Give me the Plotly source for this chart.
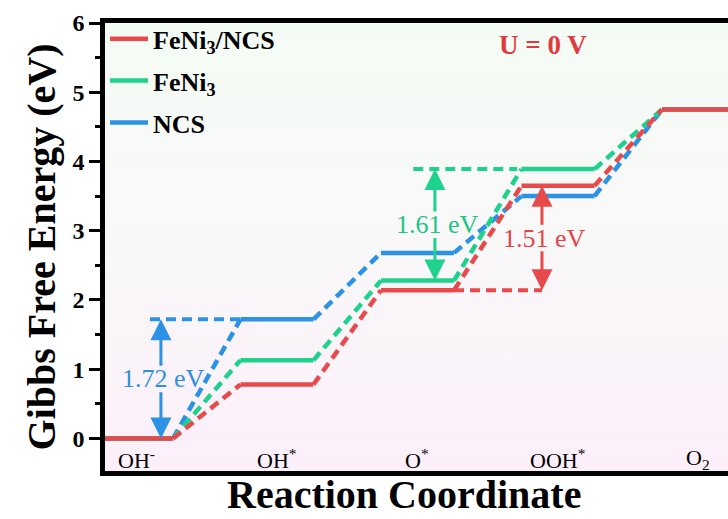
import plotly.graph_objects as go

# ---- data -------------------------------------------------------------
states = ["OH<sup>-</sup>", "OH<sup>*</sup>", "O<sup>*</sup>", "OOH<sup>*</sup>", "O<sub>2</sub>"]
series_names = ["FeNi<sub>3</sub>/NCS", "FeNi<sub>3</sub>", "NCS"]
feni3_ncs = [0.0, 0.78, 2.14, 3.65, 4.75]
feni3 = [0.0, 1.13, 2.28, 3.89, 4.75]
ncs = [0.0, 1.72, 2.68, 3.50, 4.75]
series_values = [feni3_ncs, feni3, ncs]

# potential-determining steps: (series index, lower state, upper state)
limiting_steps = [(2, 0, 1), (1, 2, 3), (0, 2, 3)]

# ---- style ------------------------------------------------------------
colors = ["#E84A4C", "#1ED28D", "#2B92E6"]
label_colors = ["#E24548", "#1CC487", "#2E8FE2"]
SERIF = "Liberation Serif, Times New Roman, serif"
LEVEL_W = 0.52          # width of each free-energy plateau (x units)
X_RANGE = [0.036, 4.47]
Y_RANGE = [-0.47, 6.0]

fig = go.Figure()

# plot-area background with a soft vertical gradient
fig.add_trace(go.Scatter(
    x=[X_RANGE[0], X_RANGE[1], X_RANGE[1], X_RANGE[0], X_RANGE[0]],
    y=[Y_RANGE[0], Y_RANGE[0], Y_RANGE[1], Y_RANGE[1], Y_RANGE[0]],
    mode="lines", line=dict(width=0), fill="toself",
    fillgradient=dict(type="vertical",
                      colorscale=[[0, "#FCEFFA"], [0.5, "#F9F8F9"], [1, "#F4FBF4"]]),
    hoverinfo="skip", showlegend=False,
))

# draw NCS first and FeNi3/NCS last so the red path sits on top
for k in [2, 1, 0]:
    vals = series_values[k]
    lx, ly, dx, dy = [], [], [], []
    for i, v in enumerate(vals):
        lx += [i, i + LEVEL_W, None]
        ly += [v, v, None]
        if i + 1 < len(vals):
            dx += [i + LEVEL_W, i + 1, None]
            dy += [v, vals[i + 1], None]
    fig.add_trace(go.Scatter(
        x=dx, y=dy, mode="lines", showlegend=False, hoverinfo="skip",
        line=dict(color=colors[k], width=4.5, dash="10px,6px"),
    ))
    fig.add_trace(go.Scatter(
        x=lx, y=ly, mode="lines", name=series_names[k], legendrank=k + 1,
        legendgroup=series_names[k],
        line=dict(color=colors[k], width=4.5),
    ))

# overpotential markers: dashed reference level, double arrow and label
# (ref_x0, ref_x1, arrow_x, reference at upper or lower state)
marker_geom = [(0.356, 1.0, 0.434, "upper"),
               (2.23, 2.97, 2.384, "upper"),
               (2 + LEVEL_W, 3.146, 3.146, "lower")]
annotations = []
for (k, lo, hi), (rx0, rx1, ax_x, ref) in zip(limiting_steps, marker_geom):
    vals = series_values[k]
    y_lo, y_hi = vals[lo], vals[hi]
    y_ref = y_hi if ref == "upper" else y_lo
    fig.add_trace(go.Scatter(
        x=[rx0, rx1], y=[y_ref, y_ref], mode="lines", showlegend=False,
        hoverinfo="skip", line=dict(color=colors[k], width=4, dash="10px,6px"),
    ))
    mid = (y_lo + y_hi) / 2
    gap = 0.17
    for tip, tail in [(y_hi, mid + gap), (y_lo, mid - gap)]:
        annotations.append(dict(
            x=ax_x, y=tip, ax=ax_x, ay=tail, xref="x", yref="y",
            axref="x", ayref="y", text="", showarrow=True,
            arrowhead=2, arrowsize=1.4, arrowwidth=3, arrowcolor=colors[k],
        ))
    annotations.append(dict(
        x=ax_x + 0.02, y=mid, xref="x", yref="y", showarrow=False,
        text=f"{y_hi - y_lo:.2f} eV",
        font=dict(family=SERIF, size=26, color=label_colors[k]),
    ))

# state labels along the bottom of the plot
for i, s in enumerate(states):
    annotations.append(dict(
        x=i + LEVEL_W / 2, y=-0.3, xref="x", yref="y", showarrow=False,
        text=s, font=dict(family=SERIF, size=22, color="black"),
    ))

annotations.append(dict(
    x=3.15, y=5.68, xref="x", yref="y", showarrow=False,
    text="U = 0 V", font=dict(family=SERIF, size=27, color="#E0393E", weight="bold"),
))

# x-axis title, placed just under the frame
annotations.append(dict(
    x=0.48, y=-0.107, xref="paper", yref="paper", xanchor="center",
    yanchor="bottom", showarrow=False, text="Reaction Coordinate",
    font=dict(family=SERIF, size=40, color="black", weight="bold"),
))

fig.update_layout(
    width=728, height=519,
    margin=dict(l=105, r=0, t=23, b=48),
    paper_bgcolor="white", plot_bgcolor="white",
    annotations=annotations,
    legend=dict(x=0.0, y=1.017, xanchor="left", yanchor="top",
                bgcolor="rgba(0,0,0,0)", tracegroupgap=5, itemwidth=38,
                font=dict(family=SERIF, size=26, color="black", weight="bold")),
    xaxis=dict(range=X_RANGE, showgrid=False, zeroline=False,
               showticklabels=False, ticks="",
               showline=True, linewidth=4.5, linecolor="black", mirror=True),
    yaxis=dict(range=Y_RANGE, showgrid=False, zeroline=False,
               tick0=0, dtick=1, ticks="outside", ticklen=11, tickwidth=3,
               tickcolor="black",
               minor=dict(dtick=0.5, ticks="outside", ticklen=5, tickwidth=3,
                          tickcolor="black"),
               showline=True, linewidth=4.5, linecolor="black", mirror=False,
               tickfont=dict(family=SERIF, size=24, color="black", weight="bold"),
               title=dict(text="Gibbs Free Energy (eV)", standoff=6,
                          font=dict(family=SERIF, size=40, color="black", weight="bold"))),
)

fig.write_html("out.html")
